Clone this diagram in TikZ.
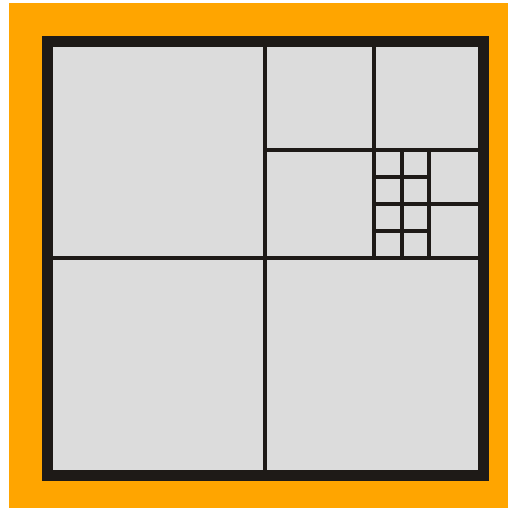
\documentclass[tikz,border=0pt]{standalone}
\definecolor{bgorange}{HTML}{FFA500}
\definecolor{cellgray}{HTML}{DCDCDC}
\definecolor{framedark}{HTML}{1E1A17}
\begin{document}
\begin{tikzpicture}[x=1pt,y=-1pt,
  gridline/.style={draw=framedark,line width=4pt},
  smallline/.style={draw=framedark,line width=3.5pt}]
\useasboundingbox (0,0) rectangle (508,508);
\fill[bgorange] (9,3) rectangle (508,508);
\draw[draw=framedark,fill=cellgray,line width=11pt] (47.5,41.5) rectangle (483.5,475.5);
% main quadrants
\draw[gridline] (265,47) -- (265,470);
\draw[gridline] (53,258) -- (478,258);
% top-right quadrant
\draw[gridline] (373.5,47) -- (373.5,258);
\draw[gridline] (265,150) -- (478,150);
% sub quadrant
\draw[smallline] (429,150) -- (429,258);
\draw[smallline] (373.5,204) -- (478,204);
% smallest cells
\draw[smallline] (402,150) -- (402,258);
\draw[smallline] (373.5,177) -- (429,177);
\draw[smallline] (373.5,231) -- (429,231);
\end{tikzpicture}
\end{document}
